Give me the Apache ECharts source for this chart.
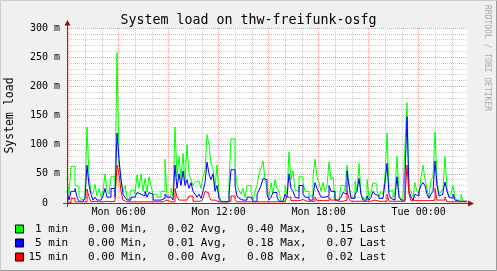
<!DOCTYPE html>
<html><head><meta charset="utf-8">
<script src="https://cdn.jsdelivr.net/npm/echarts@6/dist/echarts.min.js"></script>
<style>html,body{margin:0;padding:0;background:#F0F0F0;}#c{width:497px;height:271px;}</style>
</head><body><div id="c"></div>
<script>
const chartTitle = 'System load on thw-freifunk-osfg';
const yAxisTitle = 'System load';
const watermark = 'RRDTOOL / TOBI OETIKER';
const seriesNames = ['1 min', '5 min', '15 min'];
const legendLabels = [' 1 min', ' 5 min', '15 min'];
const seriesColors = ['#00FF00', '#0000FF', '#FF0000'];
const statMin = ['0.00', '0.00', '0.00'];
const statAvg = ['0.02', '0.01', '0.00'];
const statMax = ['0.40', '0.18', '0.08'];
const statLast = ['0.15', '0.07', '0.02'];

// time axis in hours since Mon 00:00
const startHour = 2.9;
const stepHours = 0.12;
const endHour = 26.9;
const xLabelHours = [6, 12, 18, 24];
const xLabelTexts = ['Mon 06:00', 'Mon 12:00', 'Mon 18:00', 'Tue 00:00'];
const majorGridHours = [3, 6, 9, 12, 15, 18, 21, 24];
const minorGridHours = [4, 5, 7, 8, 10, 11, 13, 14, 16, 17, 19, 20, 22, 23, 25, 26];
const yMax = 300;
const yStep = 50;

// values in milli (m)
const load1 = [
 43,15,63,63,30,28,12,6,6,22,
 130,45,20,15,32,12,25,10,20,50,
 22,15,45,45,20,258,65,40,20,30,
 10,5,22,22,15,48,25,50,20,42,
 18,45,30,15,15,10,10,20,20,75,
 12,12,25,12,130,45,80,40,85,35,
 100,50,40,30,35,38,40,25,45,55,
 117,100,68,60,25,65,15,3,3,3,
 3,35,110,110,60,30,22,15,25,10,
 30,30,20,5,20,30,50,60,72,40,
 25,10,35,15,40,25,20,3,3,30,
 15,88,40,55,22,20,45,45,35,20,
 20,12,12,45,75,45,35,20,35,20,
 30,70,40,45,5,5,5,30,30,20,
 65,30,10,10,38,20,68,15,8,8,
 40,10,20,35,32,20,12,20,15,45,
 120,20,22,10,20,80,15,5,10,100,
 172,25,20,10,35,20,15,45,65,40,
 25,10,40,45,122,40,15,20,25,80,
 25,10,15,30,10,5,5,15,3,3
];
const load5 = [
 20,5,20,20,25,10,3,3,3,8,
 65,30,15,5,10,5,5,5,12,25,
 10,10,25,25,10,120,75,40,15,10,
 5,5,10,10,8,18,15,18,12,20,
 10,18,15,5,5,5,5,8,8,15,
 10,10,8,5,65,25,50,30,55,30,
 40,25,35,20,15,10,15,8,20,35,
 70,50,40,50,20,30,8,2,2,2,
 2,15,57,57,30,12,8,5,5,5,
 10,10,8,3,3,15,22,30,42,40,
 15,5,10,18,18,10,3,3,3,15,
 10,50,25,20,10,8,30,30,15,10,
 10,5,5,12,35,25,18,10,10,12,
 12,30,20,20,5,5,5,10,18,15,
 55,30,8,8,15,20,42,15,5,5,
 12,5,10,20,15,12,8,8,10,35,
 68,15,8,5,10,45,10,5,5,45,
 148,20,10,5,15,12,20,30,35,30,
 15,8,15,20,72,30,12,15,20,36,
 20,10,8,15,5,3,3,3,3,3
];
const load15 = [
 3,0,8,8,2,2,2,2,2,2,
 24,10,2,3,2,2,2,2,2,3,
 2,2,3,3,2,65,50,20,5,2,
 2,2,2,2,2,2,2,2,2,2,
 2,2,2,2,2,2,2,2,2,5,
 2,2,2,2,25,10,5,5,5,5,
 5,12,12,3,3,3,3,3,8,20,
 17,12,5,5,2,2,2,2,2,2,
 2,3,12,12,6,2,2,2,2,2,
 2,2,2,2,2,2,2,2,2,2,
 2,2,2,2,2,2,2,2,2,5,
 10,10,4,4,4,4,6,6,3,3,
 3,3,3,3,10,4,4,4,4,4,
 4,10,5,5,3,3,3,3,3,5,
 20,8,3,3,3,3,3,3,3,3,
 5,3,3,5,3,3,3,3,3,3,
 15,3,3,3,3,3,3,3,3,10,
 65,15,4,4,4,4,4,4,4,4,
 4,4,4,5,25,5,5,5,5,10,
 2,2,2,2,2,2,2,2,2,2
];

function toPairs(vals) {
  const out = vals.map((v, i) => [startHour + i * stepHours, v]);
  out.push([startHour + vals.length * stepHours, vals[vals.length - 1]]);
  return out;
}
const seriesValues = [load1, load5, load15];
const mono = 'DejaVu Sans Mono';
const axisColor = '#3A4A45';
const arrowColor = '#8B1010';

const chart = echarts.init(document.getElementById('c'), null, {renderer: 'canvas'});
const option = {
  animation: false,
  backgroundColor: '#F0F0F0',
  title: {
    text: chartTitle, left: 'center', top: 14, padding: 0,
    textStyle: {fontFamily: mono, fontSize: 13.3, fontWeight: 'normal', color: '#000'}
  },
  grid: {left: 67, top: 28, width: 400, height: 175, show: true, backgroundColor: '#FFFFFF', borderWidth: 0},
  legend: {
    orient: 'vertical', left: 15, top: 222, padding: 0, itemGap: 0,
    itemWidth: 8, itemHeight: 8, icon: 'rect',
    data: seriesNames,
    itemStyle: {borderColor: '#000', borderWidth: 1},
    textStyle: {fontFamily: mono, fontSize: 11, color: '#000', lineHeight: 14},
    formatter: function (name) {
      const k = seriesNames.indexOf(name);
      return legendLabels[k] + '   ' + statMin[k] + ' Min,   ' + statAvg[k] + ' Avg,   ' +
        statMax[k] + ' Max,   ' + statLast[k] + ' Last';
    }
  },
  xAxis: [
    {
      type: 'value', min: startHour, max: endHour, position: 'bottom',
      axisLine: {show: true, lineStyle: {color: axisColor, width: 1}},
      axisTick: {show: false, customValues: majorGridHours},
      axisLabel: {
        customValues: xLabelHours, margin: 4,
        fontFamily: mono, fontSize: 10, color: '#000',
        formatter: function (v) { return xLabelTexts[xLabelHours.indexOf(Math.round(v))] || ''; }
      },
      splitLine: {show: true, lineStyle: {color: '#E4A0A0', width: 1, type: [1, 1]}}
    },
    {
      type: 'value', min: startHour, max: endHour, position: 'bottom',
      axisLine: {show: false}, axisLabel: {show: false},
      axisTick: {show: false, customValues: minorGridHours},
      splitLine: {show: true, lineStyle: {color: '#CACACA', width: 1, type: [1, 1]}}
    }
  ],
  yAxis: {
    type: 'value', min: 0, max: yMax, interval: yStep,
    axisLine: {show: true, lineStyle: {color: axisColor, width: 1}},
    axisTick: {show: false},
    axisLabel: {
      margin: 7, fontFamily: mono, fontSize: 10, color: '#000',
      formatter: function (v) { return v === 0 ? '0  ' : v + ' m'; }
    },
    splitLine: {show: true, lineStyle: {color: '#E4A0A0', width: 1, type: [1, 1]}},
    minorTick: {show: false, splitNumber: 5},
    minorSplitLine: {show: true, lineStyle: {color: '#CACACA', width: 1, type: [1, 1]}}
  },
  series: seriesValues.map((vals, k) => ({
    name: seriesNames[k], type: 'line', step: 'end', data: toPairs(vals),
    showSymbol: false, symbol: 'none', z: 3 + k,
    lineStyle: {color: seriesColors[k], width: 1},
    itemStyle: {color: seriesColors[k]}
  })),
  graphic: [
    {type: 'text', x: 10.5, y: 115.5, rotation: Math.PI / 2,
     style: {text: yAxisTitle, font: '11.5px "DejaVu Sans Mono"', fill: '#000', align: 'center', verticalAlign: 'middle'}},
    {type: 'text', x: 487.5, y: 5, rotation: -Math.PI / 2,
     style: {text: watermark, font: '8px "DejaVu Sans Mono"', fill: '#A8A8A8', align: 'left', verticalAlign: 'middle'}},
    {type: 'line', shape: {x1: 67.5, y1: 207, x2: 67.5, y2: 22}, style: {stroke: axisColor, lineWidth: 1}, z: 10},
    {type: 'line', shape: {x1: 63, y1: 203.5, x2: 470, y2: 203.5}, style: {stroke: axisColor, lineWidth: 1}, z: 10},
    {type: 'polygon', shape: {points: [[64.5, 25.5], [70.5, 25.5], [67.5, 20]]}, style: {fill: arrowColor}, z: 11},
    {type: 'polygon', shape: {points: [[468, 200.5], [468, 206.5], [474, 203.5]]}, style: {fill: arrowColor}, z: 11},
    {type: 'polyline', shape: {points: [[0.5, 270.5], [0.5, 0.5], [496.5, 0.5]]}, style: {stroke: '#CBCBCB', lineWidth: 1, fill: null}},
    {type: 'polyline', shape: {points: [[0.5, 270.5], [496.5, 270.5], [496.5, 0.5]]}, style: {stroke: '#999999', lineWidth: 1, fill: null}}
  ]
};
chart.setOption(option);
</script>
</body></html>
